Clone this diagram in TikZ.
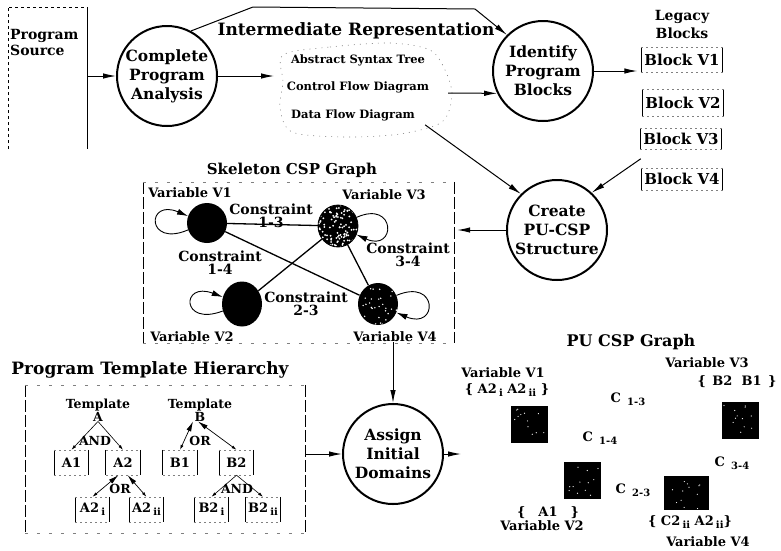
\documentclass[tikz,border=0pt]{standalone}
\usepackage{fontspec}
\setmainfont{DejaVu Serif}
\usetikzlibrary{arrows.meta,shapes.geometric,calc}

% draw the two vertical sides and the two horizontal sides of a node in separate styles
\newcommand\sidebox[3]{%
  \draw[#2] (#1.north west) -- (#1.south west) (#1.north east) -- (#1.south east);
  \draw[#3] (#1.north west) -- (#1.north east) (#1.south west) -- (#1.south east);}
% lowered, slightly smaller index
\newcommand\lowsub[1]{\,\raisebox{-3pt}{\fontsize{10}{11}\selectfont #1}}

\begin{document}
\begin{tikzpicture}[x=1pt,y=-1pt,
  proc/.style={circle,draw,line width=2pt,minimum size=100pt,inner sep=0pt,align=center,
               font=\fontsize{15.5}{19}\selectfont\bfseries},
  ttl/.style={inner sep=0pt,font=\fontsize{15}{18}\selectfont\bfseries},
  lbl/.style={inner sep=0pt,align=center,font=\fontsize{13}{13}\selectfont\bfseries},
  small/.style={inner sep=0pt,font=\fontsize{11.5}{13}\selectfont\bfseries},
  blk/.style={minimum width=81pt,inner sep=0pt,font=\fontsize{15}{17}\selectfont\bfseries},
  leaf/.style={minimum width=34pt,minimum height=25pt,inner sep=0pt,font=\fontsize{13}{15}\selectfont\bfseries},
  tlab/.style={inner sep=0pt,align=center,font=\fontsize{12.5}{13}\selectfont\bfseries},
  var/.style={ellipse,fill=black,minimum width=40pt,minimum height=40pt,inner sep=0pt},
  sq/.style={rectangle,fill=black,minimum size=37pt,inner sep=0pt},
  arr/.style={-{Latex[length=13pt,width=5.5pt]},line width=1pt},
  loopar/.style={-{Latex[length=11pt,width=6pt]},line width=0.9pt},
  edge/.style={line width=1.3pt},
  dn/.style={-{Latex[length=5pt,width=3pt]},line width=0.6pt},
  orl/.style={{Latex[length=5pt,width=3pt]}-{Latex[length=10pt,width=5pt]},line width=0.7pt},
  bside/.style={line width=0.8pt},
  btop/.style={line width=0.5pt,gray,dash pattern=on 2pt off 3pt},
  fside/.style={line width=0.6pt,dash pattern=on 12pt off 3pt},
  ftop/.style={line width=0.5pt,gray,dash pattern=on 3pt off 9pt},
  cloud/.style={line width=0.6pt,gray,dash pattern=on 1pt off 5pt}]

\useasboundingbox (0,0) rectangle (781,550);

% ---------- program source ----------
\node[minimum width=79pt,minimum height=142pt,inner sep=0pt] (src) at (47.5,78) {};
\draw[dashed,line width=0.6pt] (src.south west) -- (src.north west) -- (src.north east);
\draw[line width=0.7pt] (src.north east) -- (src.south east);
\node[anchor=north west,align=left,inner sep=0pt,font=\fontsize{14}{16}\selectfont\bfseries]
  (srctxt) at (10,29) {Program\\Source};

% ---------- analysis ----------
\node[proc] (cpa) at (167,76) {Complete\\Program\\Analysis};
\draw[arr] (src.east |- cpa.west) -- (cpa.west);

% ---------- intermediate representation ----------
\node[ttl,font=\fontsize{17}{18}\selectfont\bfseries] (irt) at (356,31) {Intermediate Representation};
\node[small] (ast) at (358,60) {Abstract Syntax Tree};
\node[small] (cfd) at (358,87) {Control Flow Diagram};
\node[small] (dfd) at (353,115) {Data Flow Diagram};
\draw[cloud] plot[smooth cycle] coordinates {(283,55) (330,47) (390,43) (430,50) (445,70)
  (452,95) (442,122) (400,134) (345,137) (292,132) (280,108) (283,82)};
\coordinate (irin) at (274,76);
\coordinate (irout) at (448,93);
\draw[arr] (cpa.east) -- (irin);

% ---------- identify blocks ----------
\node[proc] (ipb) at (543,71) {Identify\\Program\\Blocks};
\draw[arr] (irout) -- (ipb.206);
\coordinate (bend1) at (253,7);
\coordinate (bend2) at (475,9);
\draw[arr] (cpa.62) -- (bend1) -- (bend2) -- (ipb.135);

% ---------- legacy blocks ----------
\node[lbl,font=\fontsize{14}{18}\selectfont\bfseries] (leg) at (682,24) {Legacy\\Blocks};
\node[blk,minimum height=25pt] (bv1) at (682,60) {Block V1};
\node[blk,minimum height=27pt] (bv2) at (683,103) {Block V2};
\node[blk,minimum height=21pt] (bv3) at (681,139) {Block V3};
\node[blk,minimum height=22pt] (bv4) at (682,179) {Block V4};
\sidebox{bv1}{bside}{btop}
\sidebox{bv2}{bside}{btop}
\sidebox{bv3}{bside}{btop}
\sidebox{bv4}{bside}{btop}
\draw[arr,shorten >=4pt] (ipb.east) -- (ipb.east -| bv1.west);

% ---------- PU-CSP structure ----------
\node[proc] (ps) at (557,230) {Create\\PU-CSP\\Structure};
\draw[arr] ($(dfd.south east)+(10,4)$) -- (ps.135);
\coordinate (bsrc) at ($(bv3.south west)!0.5!(bv4.north west)$);
\draw[arr] (bsrc) -- (ps.47);

% ---------- skeleton CSP graph ----------
\node[minimum width=311pt,minimum height=161pt,inner sep=0pt] (skel) at (298.5,262.5) {};
\sidebox{skel}{fside}{ftop}
\node[ttl] (skt) at (292,170) {Skeleton CSP Graph};
\draw[arr,shorten >=3pt] (ps.west) -- (ps.west -| skel.east);

\node[var] (v1) at (207,223) {};
\node[var,minimum height=42pt] (v3) at (338,226) {};
\node[var,minimum height=45pt] (v2) at (242,304) {};
\node[var,minimum height=42pt] (v4) at (378,304) {};

\draw[edge] (v1) -- (v3);
\draw[edge] (v1) -- (v4);
\draw[edge] (v2) -- (v3);
\draw[edge] (v3) -- (v4);

% speckled variables
\pgfmathsetseed{42}
\begin{scope}
  \clip (v3.center) ellipse [x radius=20,y radius=21];
  \foreach \k in {1,...,110}{\fill[white] ($(v3.center)+(20*rand,21*rand)$) circle [radius=1];}
\end{scope}
\draw[line width=0.8pt] (v3.center) ellipse [x radius=20,y radius=21];
\begin{scope}
  \clip (v4.center) ellipse [x radius=20,y radius=21];
  \foreach \k in {1,...,35}{\fill[white] ($(v4.center)+(20*rand,21*rand)$) circle [radius=0.8];}
\end{scope}

% self loops
\draw[loopar] (v1.200) .. controls +(-42,18) and +(-42,-18) .. (v1.160);
\draw[loopar] (v2.200) .. controls +(-42,16) and +(-42,-16) .. (v2.160);
\draw[loopar] (v3.25) .. controls +(40,-18) and +(40,18) .. (v3.-25);
\draw[loopar] (v4.25) .. controls +(42,-18) and +(42,18) .. (v4.-25);

\node[lbl] (lv1) at (190,193) {Variable V1};
\node[lbl] (lv3) at (384,195) {Variable V3};
\node[lbl] (lv2) at (192,337) {Variable V2};
\node[lbl] (lv4) at (395,337) {Variable V4};
\node[lbl,font=\fontsize{14}{13}\selectfont\bfseries] (c13) at (271,216) {Constraint\\1-3};
\node[lbl,font=\fontsize{14}{13}\selectfont\bfseries] (c14) at (220,263) {Constraint\\1-4};
\node[lbl,font=\fontsize{14}{13}\selectfont\bfseries] (c23) at (306,304) {Constraint\\2-3};
\node[lbl,font=\fontsize{14}{13}\selectfont\bfseries] (c34) at (408,255) {Constraint\\3-4};

% ---------- assign domains ----------
\node[proc] (aid) at (393,454) {Assign\\Initial\\Domains};
\draw[arr] (lv4.south -| aid.north) -- (aid.north);
\coordinate (puin) at (461,454);
\draw[arr] (aid.east) -- (puin);

% ---------- program template hierarchy ----------
\node[minimum width=280pt,minimum height=148pt,inner sep=0pt] (tmpl) at (165,459) {};
\sidebox{tmpl}{fside}{ftop}
\node[ttl,font=\fontsize{17}{18}\selectfont\bfseries] (tmt) at (150,370) {Program Template Hierarchy};
\draw[arr] (tmpl.east |- aid.west) -- (aid.west);

\node[tlab] (tA) at (98,410) {Template\\A};
\node[tlab] (tB) at (200,410) {Template\\B};
\node[leaf] (a1) at (71.5,462.5) {A1};
\node[leaf] (a2) at (123,462.5) {A2};
\node[leaf] (a2i) at (92.5,509.5) {A2\lowsub{i}};
\node[leaf] (a2ii) at (146.5,509.5) {A2\lowsub{ii}};
\node[leaf] (b1) at (180,462.5) {B1};
\node[leaf] (b2) at (236.5,462.5) {B2};
\node[leaf] (b2i) at (211.5,509.5) {B2\lowsub{i}};
\node[leaf] (b2ii) at (263,509.5) {B2\lowsub{ii}};
\foreach \b in {a1,a2,a2i,a2ii,b1,b2,b2i,b2ii} {\sidebox{\b}{bside}{btop}}

\draw[dn] (tA.south) -- (a1.north);
\draw[dn] (tA.south) -- (a2.north);
\draw[orl] (a2i.north) -- (a2.250);
\draw[orl] (a2ii.north) -- (a2.290);
\draw[orl] (b1.north) -- ($(tB.south)+(-7,0)$);
\draw[orl] (b2.north) -- ($(tB.south)+(-2,0)$);
\draw[dn] (b2.south) -- (b2i.north);
\draw[dn] (b2.south) -- (b2ii.north);
\node[tlab] (andA) at (95,441) {AND};
\node[tlab] (orA) at (120,489) {OR};
\node[tlab] (orB) at (200,441) {OR};
\node[tlab] (andB) at (237,489) {AND};

% ---------- PU CSP graph ----------
\node[ttl,font=\fontsize{16}{16}\selectfont\bfseries] (put) at (631,342) {PU CSP Graph};
\node[sq] (s1) at (529,424) {};
\node[sq] (s2) at (582,480) {};
\node[sq] (s3) at (740,420) {};
\node[sq,minimum width=45pt,minimum height=34pt] (s4) at (686,493) {};
\foreach \s in {s1,s2,s3,s4}{
  \begin{scope}
    \clip (\s.north west) rectangle (\s.south east);
    \foreach \k in {1,...,12}{\fill[white] ($(\s.center)+(17*rand,16*rand)$) circle [radius=0.6];}
  \end{scope}}

\node[lbl] (pv1) at (503,373) {Variable V1};
\node[lbl] (pd1) at (507,390) {\{ A2\lowsub{i} A2\lowsub{ii} \}};
\node[lbl] (pv3) at (707,363) {Variable V3};
\node[lbl] (pd3) at (737,382) {\{\enspace B2\ \ B1\enspace\}};
\node[lbl] (pv2) at (542,526) {Variable V2};
\node[lbl] (pd2) at (548,513) {\{\quad A1\quad\}};
\node[lbl] (pv4) at (708,542) {Variable V4};
\node[lbl] (pd4) at (690,522) {\{ C2\lowsub{ii} A2\lowsub{ii}\}};
\node[lbl] (pc13) at (628,399) {C\hspace{4pt}\lowsub{1-3}};
\node[lbl] (pc14) at (600,438) {C\hspace{4pt}\lowsub{1-4}};
\node[lbl] (pc34) at (732,463) {C\hspace{4pt}\lowsub{3-4}};
\node[lbl] (pc23) at (633,490) {C\hspace{4pt}\lowsub{2-3}};

\end{tikzpicture}
\end{document}
